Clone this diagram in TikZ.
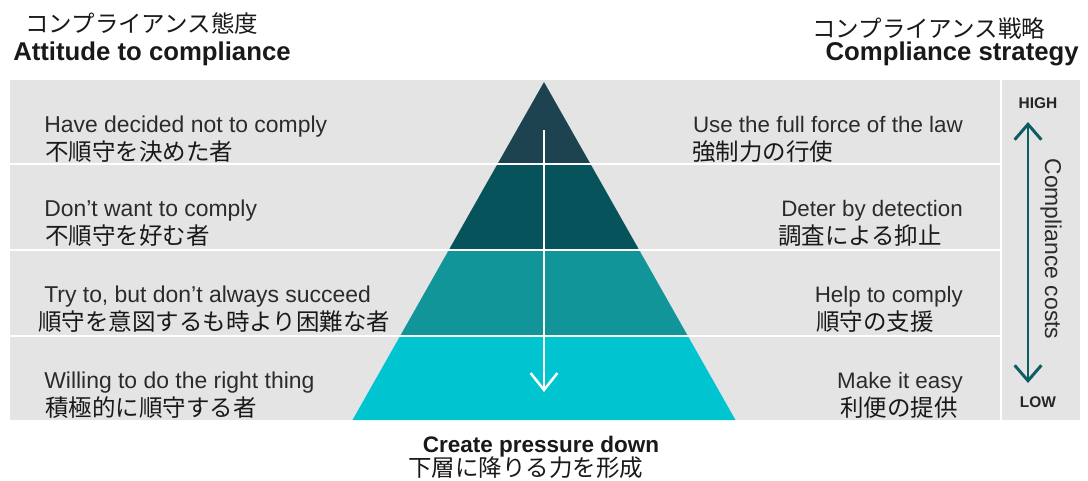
\documentclass[tikz,border=0pt]{standalone}
\usepackage{fontspec}
\setmainfont{Liberation Sans}
\newfontfamily\jpfont{Noto Sans CJK JP}
\usepackage{tikz}
\usetikzlibrary{arrows.meta}
\definecolor{bandgray}{HTML}{E4E4E4}
\definecolor{tierA}{HTML}{1E4350}
\definecolor{tierB}{HTML}{07535C}
\definecolor{tierC}{HTML}{129598}
\definecolor{tierD}{HTML}{00C5D0}
\definecolor{costteal}{HTML}{0C5C62}
\definecolor{inkgray}{HTML}{2B2B2B}
\tikzstyle{entxt} = [inner sep=0pt, text=inkgray, font=\fontsize{15.9}{19}\selectfont]
\tikzstyle{leftxt} = [entxt, font=\fontsize{16.3}{19}\selectfont]
\tikzstyle{jptxt} = [inner sep=0pt, text=black!90, font=\jpfont\fontsize{16.7}{20}\selectfont]
\tikzstyle{heading} = [inner sep=0pt, text=black!90, font=\bfseries\fontsize{18.3}{22}\selectfont]
\tikzstyle{costend} = [inner sep=0pt, text=black!85, font=\bfseries\fontsize{11}{13}\selectfont]
\tikzstyle{divider} = [white, line width=1.4pt]
\tikzstyle{pressarrow} = [white, line width=1.8pt, -{Straight Barb[length=12pt,width=19pt]}]
\tikzstyle{costarrow} = [costteal, line width=2.1pt, {Straight Barb[length=11pt,width=19pt]}-{Straight Barb[length=11pt,width=19pt]}]

\begin{document}
\begin{tikzpicture}[x=0.025cm, y=-0.025cm]
    \useasboundingbox (0,0) rectangle (1088,481);
    % grey band
    \fill[bandgray] (10,80) rectangle (1080,420);
    % pyramid tiers
    \fill[tierA] (544,82) -- (590.5,164) -- (497.5,164) -- cycle;
    \fill[tierB] (497.5,164) -- (590.5,164) -- (639.2,250) -- (448.8,250) -- cycle;
    \fill[tierC] (448.8,250) -- (639.2,250) -- (687.9,336) -- (400.1,336) -- cycle;
    \fill[tierD] (400.1,336) -- (687.9,336) -- (735.5,420) -- (352.5,420) -- cycle;
    % dividers
    \draw[divider] (10,164) -- (1001,164);
    \draw[divider] (10,250) -- (1001,250);
    \draw[divider] (10,336) -- (1001,336);
    \draw[divider] (1001,80) -- (1001,420);

    % headings
    \node (attjp) [jptxt, anchor=base west] at (25,32) {コンプライアンス態度};
    \node (att) [heading, anchor=base west] at (13,60) {Attitude to compliance};
    \node (stratjp) [jptxt, anchor=base west] at (812,37) {コンプライアンス戦略};
    \node (strat) [heading, anchor=base east] at (1079,60) {Compliance strategy};

    % attitude column
    \node (noA) [leftxt, anchor=base west] at (44,132) {Have decided not to comply};
    \node (noAjp) [jptxt, anchor=base west] at (45,160) {不順守を決めた者};
    \node (noB) [leftxt, anchor=base west] at (44,216) {Don’t want to comply};
    \node (noBjp) [jptxt, anchor=base west] at (45,244) {不順守を好む者};
    \node (tryC) [leftxt, anchor=base west] at (44,302) {Try to, but don’t always succeed};
    \node (tryCjp) [jptxt, anchor=base west] at (38,330) {順守を意図するも時より困難な者};
    \node (yesD) [leftxt, anchor=base west] at (44,388) {Willing to do the right thing};
    \node (yesDjp) [jptxt, anchor=base west] at (45,416) {積極的に順守する者};

    % strategy column
    \node (lawA) [entxt, anchor=base east] at (963,132) {Use the full force of the law};
    \node (lawAjp) [jptxt, anchor=base west] at (692,160) {強制力の行使};
    \node (detB) [entxt, anchor=base east] at (963,216) {Deter by detection};
    \node (detBjp) [jptxt, anchor=base west] at (778,244) {調査による抑止};
    \node (helpC) [entxt, anchor=base east] at (963,302) {Help to comply};
    \node (helpCjp) [jptxt, anchor=base west] at (816,330) {順守の支援};
    \node (easyD) [entxt, anchor=base east] at (963,388) {Make it easy};
    \node (easyDjp) [jptxt, anchor=base west] at (840,416) {利便の提供};

    % pressure arrow through the pyramid
    \coordinate (pushtop) at (544,130);
    \coordinate (pushend) at (544,392);
    \draw[pressarrow] (pushtop) -- (pushend);
    \node (push) [heading, font=\bfseries\fontsize{16}{19}\selectfont, anchor=base] at (541,452) {Create pressure down};
    \node (pushjp) [jptxt, anchor=base west] at (408,476) {下層に降りる力を形成};

    % cost scale
    \node (high) [costend] at (1038,103) {HIGH};
    \node (low) [costend] at (1038,402) {LOW};
    \coordinate (costtop) at (1028,122);
    \coordinate (costbot) at (1028,383);
    \draw[costarrow] (costtop) -- (costbot);
    \node (cost) [entxt, font=\fontsize{16.3}{19}\selectfont, rotate=-90] at (1051,249) {Compliance costs};
\end{tikzpicture}
\end{document}
